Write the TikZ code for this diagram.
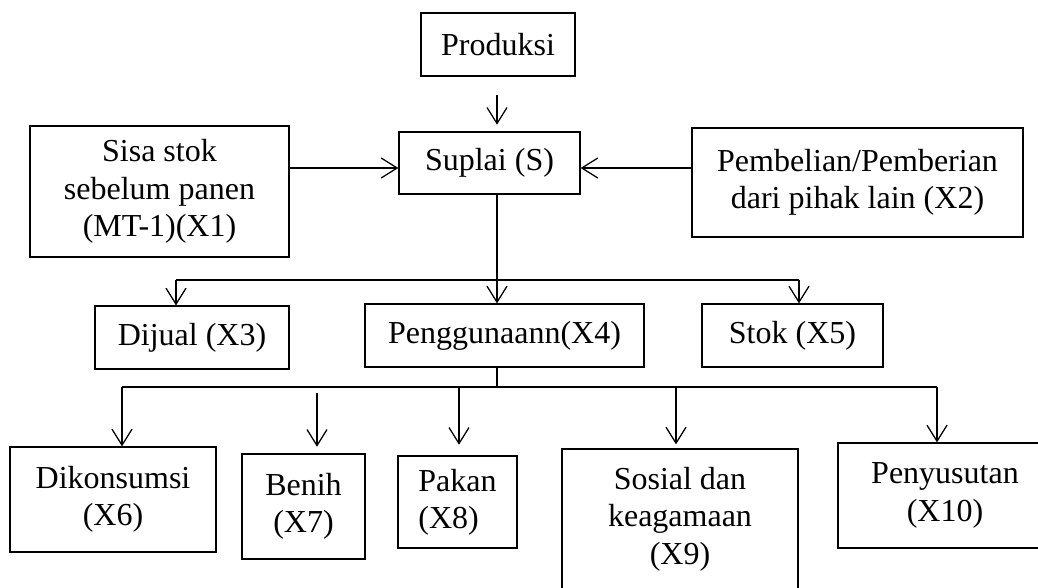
\documentclass[tikz,border=0pt]{standalone}
\usepackage{fontspec}
\setmainfont{Liberation Serif}
\usepackage{tikz}
\usetikzlibrary{arrows.meta,positioning}

\begin{document}
\begin{tikzpicture}[x=0.75pt,y=0.75pt,yscale=-1,xscale=1,
    line width=0.95pt,
    box/.style={draw, align=center, inner sep=2pt, font=\fontsize{24}{28}\selectfont},
    arr/.style={-{Straight Barb[length=12pt,width=15pt]}}]
    \useasboundingbox (0,0) rectangle (1038,587);
    \clip (0,0) rectangle (1038,587);

    %Shape: Rectangle [Produksi]
    \node[box, minimum width=115.5pt, minimum height=47.25pt] (prod) at (498,44.5) {Produksi};
    %Shape: Rectangle [Suplai]
    \node[box, minimum width=135.75pt, minimum height=46.5pt] (sup) at (489.5,163) {Suplai (S)};
    %Shape: Rectangle [X1]
    \node[box, minimum width=194.25pt, minimum height=98.25pt] (x1) at (159.5,191.5) {Sisa stok\\sebelum panen\\(MT-1)(X1)};
    %Shape: Rectangle [X2]
    \node[box, minimum width=248.25pt, minimum height=81.75pt] (x2) at (857.5,182.5) {Pembelian/Pemberian\\dari pihak lain (X2)};

    %Shape: Rectangle [X3, X4, X5]
    \node[box, minimum width=145.5pt, minimum height=47.25pt] (x3) at (192,337.5) {Dijual (X3)};
    \node[box, minimum width=209.25pt, minimum height=47.25pt] (x4) at (504.5,335.5) {Penggunaann(X4)};
    \node[box, minimum width=135.75pt, minimum height=47.25pt] (x5) at (792.5,335.5) {Stok (X5)};

    %Shape: Rectangle [X6 .. X10]
    \node[box, minimum width=154.5pt, minimum height=78.75pt] (x6) at (113,499.5) {Dikonsumsi\\(X6)};
    \node[box, minimum width=92.25pt, minimum height=78.75pt] (x7) at (303.5,506.5) {Benih\\(X7)};
    \node[box, align=left, minimum width=89.25pt, minimum height=69pt] (x8) at (457.5,502) {Pakan\\(X8)};
    \node[box, minimum width=177pt, minimum height=105pt] (x9) at (680,519) {Sosial dan\\keagamaan\\(X9)};
    \node[box, minimum width=160.5pt, minimum height=78.75pt] (x10) at (945,495.5) {Penyusutan\\(X10)};

    % bus points
    \coordinate (lvl) at (0,168);
    \coordinate (bus1) at (497,280);
    \coordinate (bus1w) at (176,280);
    \coordinate (bus1e) at (799,280);
    \coordinate (bus2) at (497,387);
    \coordinate (bus2w) at (122,387);
    \coordinate (bus2e) at (937,387);

    %Straight Lines [into Suplai]
    \draw[arr, shorten <=14pt, shorten >=5pt] (prod.south -| bus1) -- (sup.north -| bus1);
    \draw[arr] (x1.east |- lvl) -- (sup.west |- lvl);
    \draw[arr] (x2.west |- lvl) -- (sup.east |- lvl);

    %Straight Lines [Suplai to X3, X4, X5]
    \draw (sup.south -| bus1) -- (bus1);
    \draw (bus1w) -- (bus1e);
    \draw[arr] (bus1w) -- (bus1w |- x3.north);
    \draw[arr] (bus1) -- (bus1 |- x4.north);
    \draw[arr] (bus1e) -- (bus1e |- x5.north);

    %Straight Lines [X4 to X6 .. X10]
    \draw (x4.south -| bus2) -- (bus2);
    \draw (bus2w) -- (bus2e);
    \draw[arr] (bus2w) -- (bus2w |- x6.north);
    \draw[arr, shorten <=4.5pt, shorten >=5pt] (317,387) -- (317,387 |- x7.north);
    \draw[arr, shorten >=8pt] (459,387) -- (459,387 |- x8.north);
    \draw[arr, shorten >=3pt] (676,387) -- (676,387 |- x9.north);
    \draw[arr] (bus2e) -- (bus2e |- x10.north);

\end{tikzpicture}
\end{document}
